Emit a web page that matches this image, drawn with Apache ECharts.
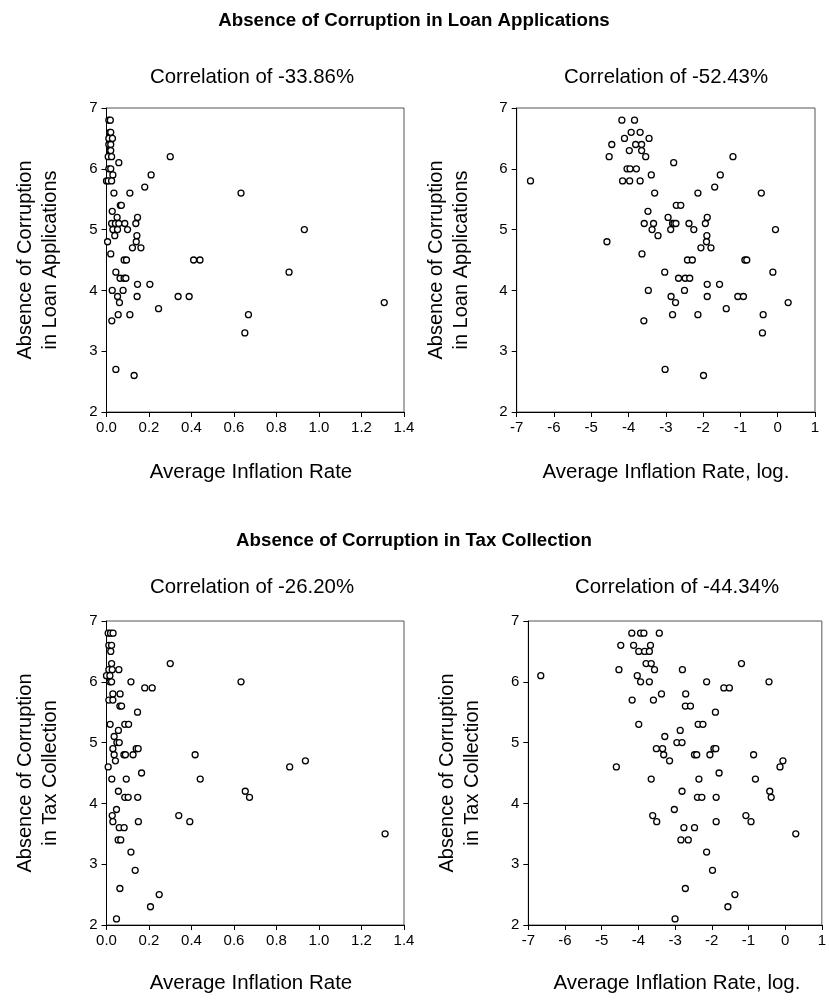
<!DOCTYPE html>
<html><head><meta charset="utf-8">
<script src="https://cdn.jsdelivr.net/npm/echarts@6/dist/echarts.min.js"></script>
<style>html,body{margin:0;padding:0;background:#fff}#c{width:829px;height:1000px}</style>
</head><body><div id="c"></div><script>
// ---- Data ----
const titles = ['Absence of Corruption in Loan Applications', 'Absence of Corruption in Tax Collection'];
const correlations = ['Correlation of -33.86%', 'Correlation of -52.43%', 'Correlation of -26.20%', 'Correlation of -44.34%'];
const yTitles = ['Absence of Corruption\nin Loan Applications', 'Absence of Corruption\nin Tax Collection'];
const xTitles = ['Average Inflation Rate', 'Average Inflation Rate, log.'];
const yTicks = [2, 7, 1];            // min, max, step
const xTicksLevel = [0, 1.4, 0.2];   // min, max, step
const xTicksLog = [-7, 1, 1];

// Panel 1: Loan applications vs average inflation rate
const loanInflation = [
 [0.011,6.8],[0.018,6.8],[0.016,6.6],[0.02,6.6],[0.011,6.5],[0.028,6.5],[0.011,6.4],[0.02,6.4],
 [0.016,6.3],[0.02,6.3],[0.008,6.2],[0.024,6.2],[0.058,6.1],[0.011,6.0],[0.02,6.0],[0.03,5.9],
 [0.0,5.8],[0.008,5.8],[0.024,5.8],[0.035,5.6],[0.11,5.6],[0.18,5.7],[0.21,5.9],[0.30,6.2],
 [0.065,5.4],[0.07,5.4],[0.027,5.3],[0.05,5.2],[0.146,5.2],[0.024,5.1],[0.042,5.1],[0.058,5.1],
 [0.086,5.1],[0.138,5.1],[0.03,5.0],[0.052,5.0],[0.099,5.0],[0.039,4.9],[0.143,4.9],[0.005,4.8],
 [0.14,4.8],[0.122,4.7],[0.162,4.7],[0.02,4.6],[0.083,4.5],[0.094,4.5],[0.41,4.5],[0.44,4.5],
 [0.044,4.3],[0.064,4.2],[0.083,4.2],[0.091,4.2],[0.146,4.1],[0.204,4.1],[0.027,4.0],[0.078,4.0],
 [0.052,3.9],[0.144,3.9],[0.337,3.9],[0.389,3.9],[0.061,3.8],[0.245,3.7],[0.055,3.6],[0.11,3.6],
 [0.668,3.6],[0.025,3.5],[0.651,3.3],[0.044,2.7],[0.13,2.6],[0.633,5.6],[0.931,5.0],[0.859,4.3],
 [1.307,3.8]
];
// Panel 2: Loan applications vs log of average inflation rate
const loanLogInflation = [
 [-6.63,5.8],[-4.58,4.8],[-4.52,6.2],[-4.45,6.4],[-4.18,6.8],[-3.84,6.8],[-4.11,6.5],[-3.93,6.6],
 [-3.69,6.6],[-3.45,6.5],[-3.98,6.3],[-3.81,6.4],[-3.65,6.4],[-3.65,6.3],[-3.54,6.2],[-4.04,6.0],
 [-3.96,6.0],[-3.79,6.0],[-4.16,5.8],[-3.97,5.8],[-3.69,5.8],[-3.39,5.9],[-3.30,5.6],[-3.48,5.3],
 [-3.58,5.1],[-3.33,5.1],[-3.37,5.0],[-3.21,4.9],[-3.64,4.6],[-3.47,4.0],[-3.59,3.5],[-2.79,6.1],
 [-1.20,6.2],[-1.54,5.9],[-1.69,5.7],[-2.14,5.6],[-0.44,5.6],[-2.72,5.4],[-2.60,5.4],[-2.94,5.2],
 [-1.89,5.2],[-2.82,5.1],[-2.78,5.1],[-2.73,5.1],[-2.38,5.1],[-1.94,5.1],[-2.87,5.0],[-2.25,5.0],
 [-0.06,5.0],[-1.90,4.9],[-1.91,4.8],[-2.06,4.7],[-1.79,4.7],[-2.42,4.5],[-2.29,4.5],[-0.88,4.5],
 [-0.83,4.5],[-3.03,4.3],[-0.13,4.3],[-2.66,4.2],[-2.48,4.2],[-2.36,4.2],[-1.89,4.1],[-1.56,4.1],
 [-2.50,4.0],[-2.86,3.9],[-1.89,3.9],[-1.07,3.9],[-0.92,3.9],[-2.74,3.8],[0.28,3.8],[-1.38,3.7],
 [-2.82,3.6],[-2.14,3.6],[-0.39,3.6],[-0.41,3.3],[-3.02,2.7],[-1.99,2.6]
];
// Panel 3: Tax collection vs average inflation rate
const taxInflation = [
 [0.008,6.8],[0.019,6.8],[0.031,6.8],[0.011,6.6],[0.024,6.6],[0.02,6.5],[0.024,6.3],[0.30,6.3],
 [0.011,6.2],[0.027,6.2],[0.058,6.2],[0.0,6.1],[0.016,6.1],[0.016,6.0],[0.024,6.0],[0.115,6.0],
 [0.633,6.0],[0.18,5.9],[0.215,5.9],[0.03,5.8],[0.064,5.8],[0.011,5.7],[0.03,5.7],[0.063,5.6],
 [0.071,5.6],[0.146,5.5],[0.017,5.3],[0.086,5.3],[0.104,5.3],[0.056,5.2],[0.036,5.1],[0.049,5.0],
 [0.06,5.0],[0.03,4.9],[0.14,4.9],[0.149,4.9],[0.036,4.8],[0.082,4.8],[0.089,4.8],[0.125,4.8],
 [0.417,4.8],[0.042,4.7],[0.936,4.7],[0.008,4.6],[0.862,4.6],[0.165,4.5],[0.025,4.4],[0.093,4.4],
 [0.441,4.4],[0.056,4.2],[0.653,4.2],[0.086,4.1],[0.102,4.1],[0.147,4.1],[0.673,4.1],[0.047,3.9],
 [0.027,3.8],[0.34,3.8],[0.03,3.7],[0.15,3.7],[0.392,3.7],[0.06,3.6],[0.083,3.6],[0.055,3.4],
 [0.067,3.4],[0.115,3.2],[0.135,2.9],[0.063,2.6],[0.248,2.5],[0.207,2.3],[0.047,2.1],[1.311,3.5]
];
// Panel 4: Tax collection vs log of average inflation rate
const taxLogInflation = [
 [-6.66,6.1],[-4.60,4.6],[-4.53,6.2],[-4.48,6.6],[-4.18,6.8],[-3.94,6.8],[-3.85,6.8],[-4.13,6.6],
 [-3.67,6.6],[-3.99,6.5],[-3.83,6.5],[-3.70,6.5],[-3.79,6.3],[-3.65,6.3],[-3.56,6.2],[-4.03,6.1],
 [-3.94,6.0],[-3.70,6.0],[-4.17,5.7],[-3.59,5.7],[-3.99,5.3],[-3.51,4.9],[-3.65,4.4],[-3.61,3.8],
 [-3.50,3.7],[-3.43,6.8],[-2.80,6.2],[-1.19,6.3],[-2.14,6.0],[-0.44,6.0],[-1.67,5.9],[-1.52,5.9],
 [-3.37,5.8],[-2.71,5.8],[-2.72,5.6],[-2.58,5.6],[-1.90,5.5],[-2.37,5.3],[-2.24,5.3],[-2.86,5.2],
 [-3.28,5.1],[-2.95,5.0],[-2.81,5.0],[-3.34,4.9],[-1.94,4.9],[-1.89,4.9],[-3.31,4.8],[-2.47,4.8],
 [-2.41,4.8],[-2.05,4.8],[-0.86,4.8],[-3.15,4.7],[-0.06,4.7],[-0.14,4.6],[-1.80,4.5],[-2.35,4.4],
 [-0.81,4.4],[-2.81,4.2],[-0.42,4.2],[-2.39,4.1],[-2.27,4.1],[-1.88,4.1],[-0.38,4.1],[-3.02,3.9],
 [-1.07,3.8],[-0.93,3.7],[-1.88,3.7],[-2.76,3.6],[-2.47,3.6],[0.29,3.5],[-2.84,3.4],[-2.64,3.4],
 [-2.14,3.2],[-1.98,2.9],[-2.72,2.6],[-1.37,2.5],[-1.56,2.3],[-3.0,2.1]
];

// ---- Layout / styling ----
const FONT = '"Liberation Sans", Arial, sans-serif';
const panels = [
  {grid:{left:106.5, top:108, width:297.5, height:304}, x:xTicksLevel, data:loanInflation, dec:1},
  {grid:{left:516.7, top:108, width:298.3, height:304}, x:xTicksLog, data:loanLogInflation, dec:0},
  {grid:{left:106.5, top:621, width:297.5, height:304}, x:xTicksLevel, data:taxInflation, dec:1},
  {grid:{left:528.3, top:621, width:298.2, height:304}, x:xTicksLog, data:taxLogInflation, dec:0}
];

const axisCommon = {
  axisLine:{show:true, onZero:false, lineStyle:{color:'#000', width:1}},
  axisTick:{show:true, inside:false, length:5, lineStyle:{color:'#000', width:1}},
  splitLine:{show:false}
};

const grid = panels.map(p => Object.assign({show:true, borderColor:'#555', borderWidth:1, backgroundColor:'transparent', containLabel:false}, p.grid));
const xAxis = panels.map((p,i) => Object.assign({}, axisCommon, {
  type:'value', gridIndex:i, min:p.x[0], max:p.x[1], interval:p.x[2],
  axisLabel:{color:'#000', fontFamily:FONT, fontSize:15, margin:8, showMinLabel:true, showMaxLabel:true,
    formatter: v => v.toFixed(p.dec)}
}));
const yAxis = panels.map((p,i) => Object.assign({}, axisCommon, {
  type:'value', gridIndex:i, min:yTicks[0], max:yTicks[1], interval:yTicks[2],
  axisLabel:{color:'#000', fontFamily:FONT, fontSize:15, margin:9, showMinLabel:true, showMaxLabel:true}
}));
const series = panels.map((p,i) => ({
  type:'scatter', xAxisIndex:i, yAxisIndex:i, data:p.data, symbol:'circle', symbolSize:6,
  itemStyle:{color:'#fff', borderColor:'#000', borderWidth:1.3, opacity:1}, silent:true
}));

function txt(text, x, y, size, bold, rot){
  const font = (bold?'bold ':'') + size + 'px ' + FONT;
  return {type:'text', x:x, y:y, rotation:rot||0, silent:true,
    style:{text:text, x:0, y:0, font:font, fill:'#000', align:'center', verticalAlign:'middle',
      textAlign:'center', textVerticalAlign:'middle', lineHeight:Math.round(size+5)}};
}
const graphic = [
  txt(titles[0], 414, 21, 18.7, true),
  txt(correlations[0], 252, 77, 20.4),
  txt(correlations[1], 666, 77, 20.4),
  txt(xTitles[0], 251, 472, 20.5),
  txt(xTitles[1], 666, 472, 20.5),
  txt(yTitles[0], 38, 260, 20, false, Math.PI/2),
  txt(yTitles[0], 449, 260, 20, false, Math.PI/2),
  txt(titles[1], 414, 541, 18.7, true),
  txt(correlations[2], 252, 587, 20.4),
  txt(correlations[3], 677, 587, 20.4),
  txt(xTitles[0], 251, 983, 20.5),
  txt(xTitles[1], 677, 983, 20.5),
  txt(yTitles[1], 38, 773, 20, false, Math.PI/2),
  txt(yTitles[1], 460, 773, 20, false, Math.PI/2)
];

const chart = echarts.init(document.getElementById('c'), null, {renderer:'canvas'});
chart.setOption({animation:false, backgroundColor:'#fff', grid, xAxis, yAxis, series, graphic});
</script></body></html>
